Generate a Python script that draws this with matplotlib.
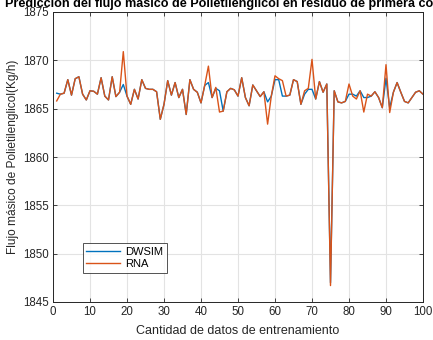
import numpy as np
import matplotlib
matplotlib.use("Agg")
import matplotlib.pyplot as plt

plt.rcParams['font.family'] = ['Liberation Sans', 'DejaVu Sans']

# Sample index (training data count)
muestras = list(range(1, 101))

# Mass flow simulated with DWSIM (Kg/h)
dwsim = [1866.6, 1866.5, 1866.6, 1868.0, 1866.4, 1868.1, 1868.3, 1866.5, 1865.9, 1866.85,
         1866.8, 1866.5, 1868.2, 1866.3, 1865.9, 1868.3, 1866.25, 1866.7, 1867.5, 1866.3,
         1865.45, 1867.0, 1866.0, 1868.0, 1867.1, 1867.0, 1867.0, 1866.75, 1863.9, 1865.45,
         1867.9, 1866.4, 1867.7, 1866.15, 1867.0, 1864.4, 1868.0, 1867.0, 1866.7, 1865.6,
         1867.4, 1867.7, 1866.15, 1867.1, 1866.85, 1864.75, 1866.75, 1867.1, 1866.95, 1866.3,
         1868.2, 1866.15, 1865.3, 1867.45, 1866.85, 1866.25, 1866.75, 1865.7, 1866.3, 1868.0,
         1868.0, 1866.3, 1866.3, 1866.4, 1868.0, 1867.8, 1865.45, 1866.5, 1867.0, 1867.0,
         1866.0, 1867.8, 1866.7, 1867.55, 1847.0, 1866.85, 1865.7, 1865.6, 1865.75, 1866.5,
         1866.5, 1866.3, 1866.85, 1866.15, 1866.15, 1866.3, 1866.75, 1866.15, 1865.1, 1868.15,
         1865.1, 1866.7, 1867.7, 1866.7, 1865.75, 1865.6, 1866.15, 1866.7, 1866.85, 1866.5]

# Mass flow predicted by the neural network (Kg/h)
rna = [1865.8, 1866.5, 1866.6, 1868.0, 1866.4, 1868.1, 1868.3, 1866.5, 1865.9, 1866.85,
       1866.8, 1866.5, 1868.2, 1866.3, 1865.9, 1868.3, 1866.25, 1866.7, 1870.9, 1866.3,
       1865.45, 1867.0, 1866.0, 1868.0, 1867.1, 1867.0, 1867.0, 1866.75, 1863.9, 1865.45,
       1867.9, 1866.4, 1867.7, 1866.15, 1867.0, 1864.4, 1868.0, 1867.0, 1866.7, 1865.6,
       1867.4, 1869.4, 1866.15, 1867.2, 1864.65, 1864.75, 1866.75, 1867.1, 1866.95, 1866.3,
       1868.2, 1866.15, 1865.3, 1867.45, 1866.85, 1866.25, 1866.75, 1863.4, 1866.3, 1868.4,
       1868.1, 1867.9, 1866.3, 1866.4, 1868.0, 1867.8, 1865.45, 1866.85, 1867.1, 1870.1,
       1866.0, 1867.8, 1866.7, 1867.55, 1846.7, 1866.85, 1865.7, 1865.6, 1865.75, 1867.55,
       1866.3, 1866.0, 1866.85, 1864.65, 1866.5, 1866.3, 1866.75, 1866.15, 1865.1, 1869.55,
       1864.6, 1866.7, 1867.7, 1866.7, 1865.75, 1865.6, 1866.15, 1866.7, 1866.85, 1866.5]

x_ticks = list(range(0, 101, 10))
y_ticks = list(range(1845, 1876, 5))

W, H = 433, 340
fig = plt.figure(figsize=(W / 100, H / 100), dpi=100)
ax = fig.add_axes([53 / W, 1 - 302 / H, 370 / W, 290 / H])

ax.plot(muestras, dwsim, color='#0072BD', lw=1.0, label='DWSIM')
ax.plot(muestras, rna, color='#D95319', lw=1.0, label='RNA')

ax.set_xlim(0, 100)
ax.set_ylim(1845, 1875)
ax.set_xticks(x_ticks)
ax.set_yticks(y_ticks)
ax.grid(True, color='#e3e3e3', lw=0.8)
ax.set_axisbelow(True)
ax.tick_params(direction='in', top=True, right=True, length=3, width=0.6,
               labelsize=8.3, colors='#262626', pad=3)
for s in ax.spines.values():
    s.set_color('#262626')
    s.set_linewidth(0.7)

ax.set_xlabel('Cantidad de datos de entrenamiento', fontsize=9, color='#262626', labelpad=5)
ax.set_ylabel('Flujo másico de Polietilenglicol(Kg/h)', fontsize=8.6, color='#262626', labelpad=3)

fig.text(238 / W, 1 - 7 / H,
         'Predicción del flujo másico de Polietilenglicol en residuo de primera columna',
         ha='center', va='baseline', fontsize=9.1, fontweight='bold', color='black')

leg = ax.legend(loc='lower left', bbox_to_anchor=(0.08, 0.1), fontsize=8,
                frameon=True, fancybox=False, handlelength=3.0, borderpad=0.35,
                labelspacing=0.2, handletextpad=0.5, borderaxespad=0)
leg.get_frame().set_edgecolor('#262626')
leg.get_frame().set_linewidth(0.7)

fig.savefig('out.png', dpi=100)
